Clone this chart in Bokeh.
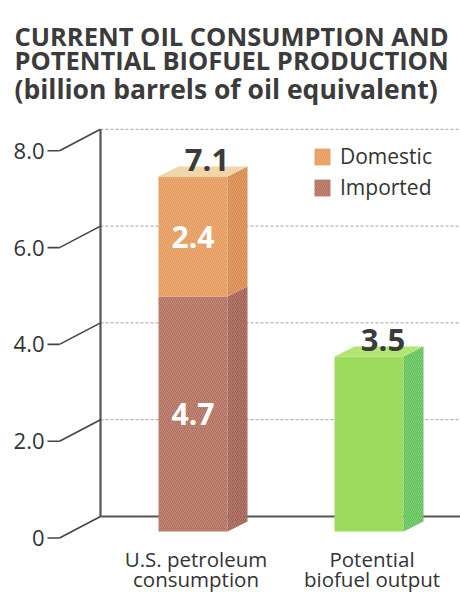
from bokeh.plotting import figure
from bokeh.models import Range1d, Legend, LegendItem, ColumnDataSource
from bokeh.core.properties import value
from bokeh.embed import file_html
from bokeh.resources import INLINE

# ---------------- data ----------------
categories = ["U.S. petroleum\nconsumption", "Potential\nbiofuel output"]
imported = [4.7, 0.0]
domestic = [2.4, 0.0]
biofuel = [0.0, 3.5]
series_names = ["Domestic", "Imported"]
y_ticks = [0, 2, 4, 6, 8]
y_tick_labels = ["0", "2.0", "4.0", "6.0", "8.0"]
title_lines = ["CURRENT OIL CONSUMPTION AND",
               "POTENTIAL BIOFUEL PRODUCTION",
               "(billion barrels of oil equivalent)"]

# ---------------- layout / style ----------------
W, H = 460, 593
PX_PER_CAT = 176.0
X0 = -192.5 / PX_PER_CAT
X1 = X0 + W / PX_PER_CAT
FRONT_ZERO, FRONT_SCALE = 537.5, 48.4      # canvas px of value 0, px per unit
Y0, Y1 = (FRONT_ZERO - H) / FRONT_SCALE, FRONT_ZERO / FRONT_SCALE
BAR_ZERO, BAR_SCALE = 531.0, 50.0
BY0, BY1 = (BAR_ZERO - H) / BAR_SCALE, BAR_ZERO / BAR_SCALE


def px(cx):          # canvas x pixel -> x data
    return X0 + cx / PX_PER_CAT


def py(cy):          # canvas y pixel -> front-plane value
    return (FRONT_ZERO - cy) / FRONT_SCALE


BAR_W = 69 / PX_PER_CAT
DEPTH_X = 20 / PX_PER_CAT
DEPTH_Y = 10 / BAR_SCALE
LABEL_GAP = 7 / BAR_SCALE
TOTAL_SHIFT = 14 / PX_PER_CAT
WALL_X = px(100)
AXIS_X = px(59)
TICK_X = px(47)
TICKLABEL_X = px(44)
WALL_RISE = 21.5 / FRONT_SCALE
TITLE_X = px(14)
TITLE_Y = [py(35), py(59), py(88)]
TITLE_SIZES = ["25.5px", "25.5px", "26.5px"]
CAT_Y = py(558)
CAT_PITCH = 20 / FRONT_SCALE
CAT_SHIFT = 3 / PX_PER_CAT
FONT = "Open Sans"
TXT = "#3b3b3b"

C_DOM = ("#e59b5c", "#d88a4c", "#efd2a2")   # front, side, top
C_IMP = ("#b2705f", "#a26152", "#c4887a")
C_BIO = ("#93d84d", "#63c25c", "#ade367")

p = figure(width=W, height=H, x_range=Range1d(X0, X1), y_range=Range1d(Y0, Y1),
           output_backend="svg", toolbar_location=None, title_location=None,
           x_axis_location=None, y_axis_location=None,
           min_border=0, min_border_left=0, min_border_right=0,
           min_border_top=0, min_border_bottom=0)
p.extra_y_ranges = {"bars": Range1d(BY0, BY1)}
p.outline_line_color = None
p.grid.visible = False
p.background_fill_color = "white"
p.border_fill_color = "white"

# ---------------- back wall ----------------
grid_vals = [v for v in y_ticks if v > 0]
p.segment(x0=[WALL_X] * len(grid_vals), x1=[X1] * len(grid_vals),
          y0=[v + WALL_RISE for v in grid_vals], y1=[v + WALL_RISE for v in grid_vals],
          line_color="#a0a0a0", line_width=1, line_dash="3 2")
p.segment(x0=[WALL_X], x1=[X1], y0=[WALL_RISE], y1=[WALL_RISE],
          line_color="#555555", line_width=2.2)
p.segment(x0=[WALL_X], x1=[WALL_X], y0=[WALL_RISE], y1=[max(y_ticks) + WALL_RISE],
          line_color="#555555", line_width=2.2)

# y axis: front labels, short ticks and oblique connectors to the wall
n = len(y_ticks)
p.segment(x0=[TICK_X] * n, x1=[AXIS_X] * n, y0=y_ticks, y1=y_ticks,
          line_color="#444444", line_width=1.6)
p.segment(x0=[AXIS_X] * n, x1=[WALL_X] * n,
          y0=y_ticks, y1=[v + WALL_RISE for v in y_ticks],
          line_color="#444444", line_width=1.6)
p.text(x=[TICKLABEL_X] * n, y=y_ticks, text=y_tick_labels,
       text_font=value(FONT), text_font_size="22px", text_color="#333333",
       text_align="right", text_baseline="middle")

# ---------------- bars ----------------
xs = list(range(len(categories)))
hatch = dict(hatch_pattern="/", hatch_color="white", hatch_alpha=0.18,
             hatch_scale=4, hatch_weight=1)


def draw_segment(idx_list, bottoms, tops, colors, draw_top):
    sel = [i for i in range(len(idx_list)) if tops[i] - bottoms[i] > 0]
    xi = [idx_list[i] for i in sel]
    bo = [bottoms[i] for i in sel]
    to = [tops[i] for i in sel]
    front = p.vbar(x=xi, bottom=bo, top=to, width=BAR_W, fill_color=colors[0],
                   line_color=None, y_range_name="bars", **hatch)
    side_xs, side_ys, top_xs, top_ys = [], [], [], []
    for x, b, t in zip(xi, bo, to):
        xa, xb = x - BAR_W / 2, x + BAR_W / 2
        side_xs.append([xb, xb + DEPTH_X, xb + DEPTH_X, xb])
        side_ys.append([b, b + DEPTH_Y, t + DEPTH_Y, t])
        top_xs.append([xa, xa + DEPTH_X, xb + DEPTH_X, xb])
        top_ys.append([t, t + DEPTH_Y, t + DEPTH_Y, t])
    p.patches(side_xs, side_ys, fill_color=colors[1], line_color=None,
              y_range_name="bars", **hatch)
    if draw_top:
        p.patches(top_xs, top_ys, fill_color=colors[2], line_color=None,
                  y_range_name="bars", **hatch)
    return front


zeros = [0.0] * len(xs)
imp_tops = imported
dom_tops = [a + b for a, b in zip(imported, domestic)]
r_imp = draw_segment(xs, zeros, imp_tops, C_IMP, False)
r_dom = draw_segment(xs, imp_tops, dom_tops, C_DOM, True)
r_bio = draw_segment(xs, zeros, biofuel, C_BIO, True)

# totals above bars
totals = [a + b + c for a, b, c in zip(imported, domestic, biofuel)]
p.text(x=[x + TOTAL_SHIFT for x in xs], y=[t + DEPTH_Y + LABEL_GAP for t in totals],
       text=[f"{t:.1f}" for t in totals], y_range_name="bars",
       text_font=value(FONT), text_font_style="bold", text_font_size="31px",
       text_color=TXT, text_align="center", text_baseline="alphabetic")

# values inside stacked segments
in_x, in_y, in_t = [], [], []
for x, imp, dom in zip(xs, imported, domestic):
    if imp > 0:
        in_x.append(x); in_y.append(imp / 2); in_t.append(f"{imp:.1f}")
    if dom > 0:
        in_x.append(x); in_y.append(imp + dom / 2); in_t.append(f"{dom:.1f}")
p.text(x=in_x, y=in_y, text=in_t, y_range_name="bars",
       text_font=value(FONT), text_font_style="bold", text_font_size="30px",
       text_color="white", text_align="center", text_baseline="middle")

# category labels under the bars
cx, cy, ct = [], [], []
for x, c in zip(xs, categories):
    for k, line in enumerate(c.split("\n")):
        cx.append(x + CAT_SHIFT); cy.append(CAT_Y - k * CAT_PITCH); ct.append(line)
p.text(x=cx, y=cy, text=ct, text_font=value(FONT), text_font_size="20.5px",
       text_color="#333333", text_align="center", text_baseline="alphabetic")

# ---------------- legend ----------------
legend = Legend(items=[LegendItem(label=series_names[0], renderers=[r_dom]),
                       LegendItem(label=series_names[1], renderers=[r_imp])],
                location=(312, 392), orientation="vertical",
                border_line_color=None, background_fill_alpha=0,
                padding=0, margin=0, spacing=3, glyph_width=20, glyph_height=21,
                label_standoff=8, label_text_font=FONT, label_text_font_size="21px",
                label_text_color="#333333")
p.add_layout(legend)

# ---------------- title ----------------
title_src = ColumnDataSource(dict(x=[TITLE_X] * len(title_lines), y=TITLE_Y,
                                  text=title_lines, size=TITLE_SIZES))
p.text(x="x", y="y", text="text", source=title_src, text_font_size="size",
       text_font=value(FONT), text_font_style="bold",
       text_color=TXT, text_align="left", text_baseline="alphabetic")

open("out.html", "w").write(file_html(p, INLINE))
